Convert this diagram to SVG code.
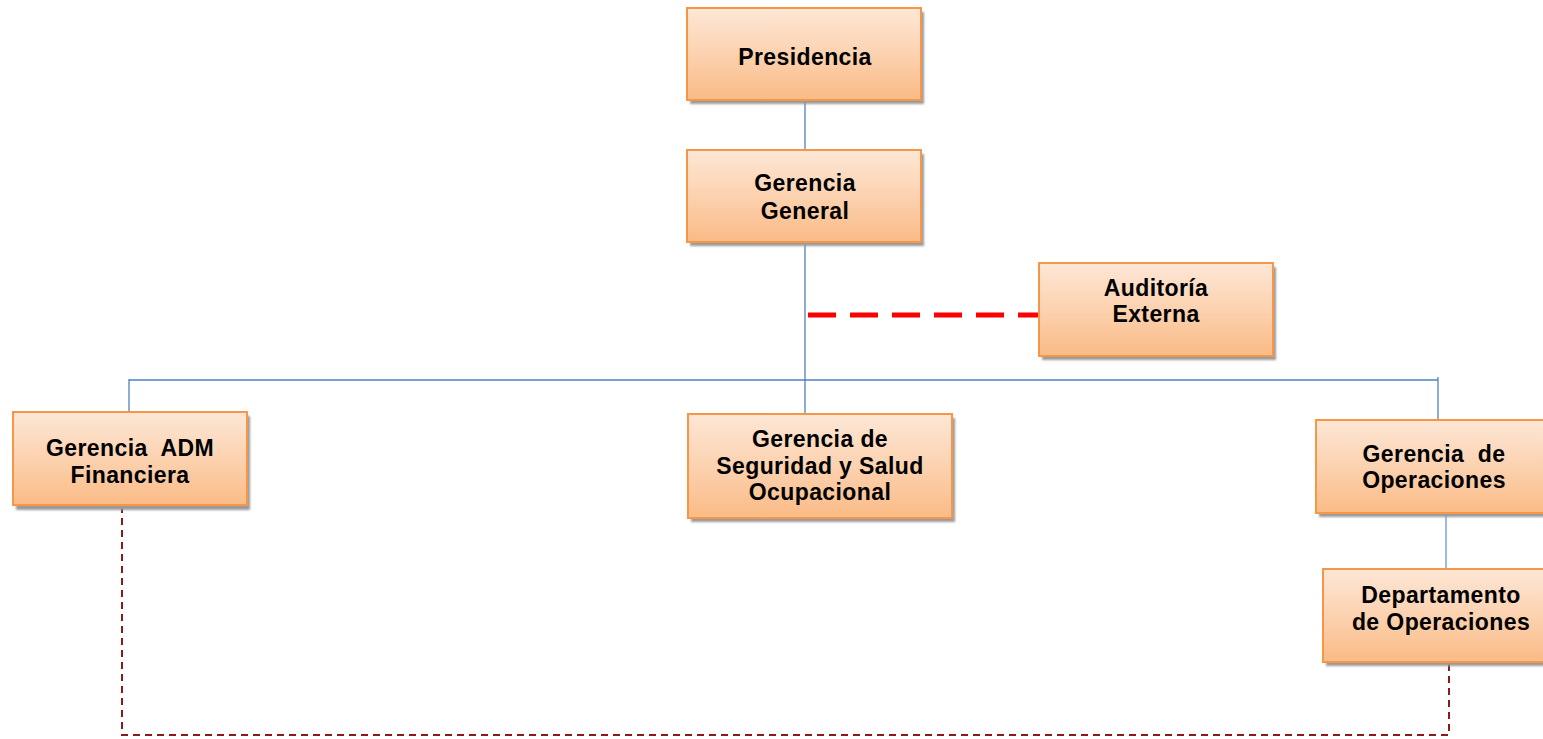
<svg xmlns="http://www.w3.org/2000/svg" width="1543" height="739" viewBox="0 0 1543 739">
<defs>
<linearGradient id="g" x1="0" y1="0" x2="0" y2="1">
<stop offset="0" stop-color="#fde7d6"/>
<stop offset="0.5" stop-color="#fcd2b0"/>
<stop offset="1" stop-color="#fabb86"/>
</linearGradient>
<filter id="sh" x="-5%" y="-5%" width="115%" height="120%">
<feGaussianBlur stdDeviation="0.8"/>
</filter>
</defs>
<style>
.box{fill:url(#g);stroke:#f79646;stroke-width:2}
.shd{fill:#9a9a9a}
.t{font-family:"Liberation Sans",Arial,sans-serif;font-weight:bold;font-size:23px;letter-spacing:0.4px;fill:#000;text-anchor:middle}
.ln{stroke:#4f81bd;stroke-width:1.3;fill:none}
.ln2{stroke:#5b9bd5;stroke-width:1.3;fill:none}
.red{stroke:#ff0000;stroke-width:5;stroke-dasharray:28 14;fill:none}
.dr{stroke:#8b1a1a;stroke-width:2;stroke-dasharray:7 5;fill:none}
</style>
<rect width="1543" height="739" fill="#fff"/>
<g id="connectors">
<line class="ln" x1="805" y1="100" x2="805" y2="150"/>
<line class="ln" x1="805" y1="242" x2="805" y2="414"/>
<line class="ln" x1="129" y1="380" x2="1438" y2="380"/>
<line class="ln" x1="129" y1="379" x2="129" y2="412"/>
<line class="ln" x1="1438" y1="377" x2="1438" y2="420"/>
<line class="ln2" x1="1446" y1="513" x2="1446" y2="569"/>
<line class="red" x1="808" y1="315" x2="1039" y2="315"/>
<polyline class="dr" points="122,506 122,735 1449,735 1449,663"/>
</g>
<g id="presidencia">
<rect class="shd" x="690" y="12" width="234" height="92" filter="url(#sh)"/>
<rect class="box" x="687" y="8" width="234" height="92"/>
<text class="t" x="805" y="65">Presidencia</text>
</g>
<g id="gerencia-general">
<rect class="shd" x="690" y="154" width="234" height="92" filter="url(#sh)"/>
<rect class="box" x="687" y="150" width="234" height="92"/>
<text class="t" x="805" y="191">Gerencia</text>
<text class="t" x="805" y="219">General</text>
</g>
<g id="auditoria-externa">
<rect class="shd" x="1042" y="267" width="234" height="93" filter="url(#sh)"/>
<rect class="box" x="1039" y="263" width="234" height="93"/>
<text class="t" x="1156" y="296">Auditoría</text>
<text class="t" x="1156" y="322">Externa</text>
</g>
<g id="gerencia-adm">
<rect class="shd" x="16" y="416" width="234" height="94" filter="url(#sh)"/>
<rect class="box" x="13" y="412" width="234" height="93"/>
<text class="t" x="130" y="456" xml:space="preserve">Gerencia  ADM</text>
<text class="t" x="130" y="483">Financiera</text>
</g>
<g id="gerencia-seguridad">
<rect class="shd" x="691" y="418" width="264" height="104" filter="url(#sh)"/>
<rect class="box" x="688" y="414" width="264" height="104"/>
<text class="t" x="820" y="447">Gerencia de</text>
<text class="t" x="820" y="474">Seguridad y Salud</text>
<text class="t" x="820" y="500">Ocupacional</text>
</g>
<g id="gerencia-operaciones">
<rect class="shd" x="1319" y="424" width="236" height="93" filter="url(#sh)"/>
<rect class="box" x="1316" y="420" width="236" height="93"/>
<text class="t" x="1434" y="462" xml:space="preserve">Gerencia  de</text>
<text class="t" x="1434" y="488">Operaciones</text>
</g>
<g id="departamento-operaciones">
<rect class="shd" x="1326" y="573" width="236" height="93" filter="url(#sh)"/>
<rect class="box" x="1323" y="569" width="236" height="93"/>
<text class="t" x="1441" y="603">Departamento</text>
<text class="t" x="1441" y="630">de Operaciones</text>
</g>
</svg>
